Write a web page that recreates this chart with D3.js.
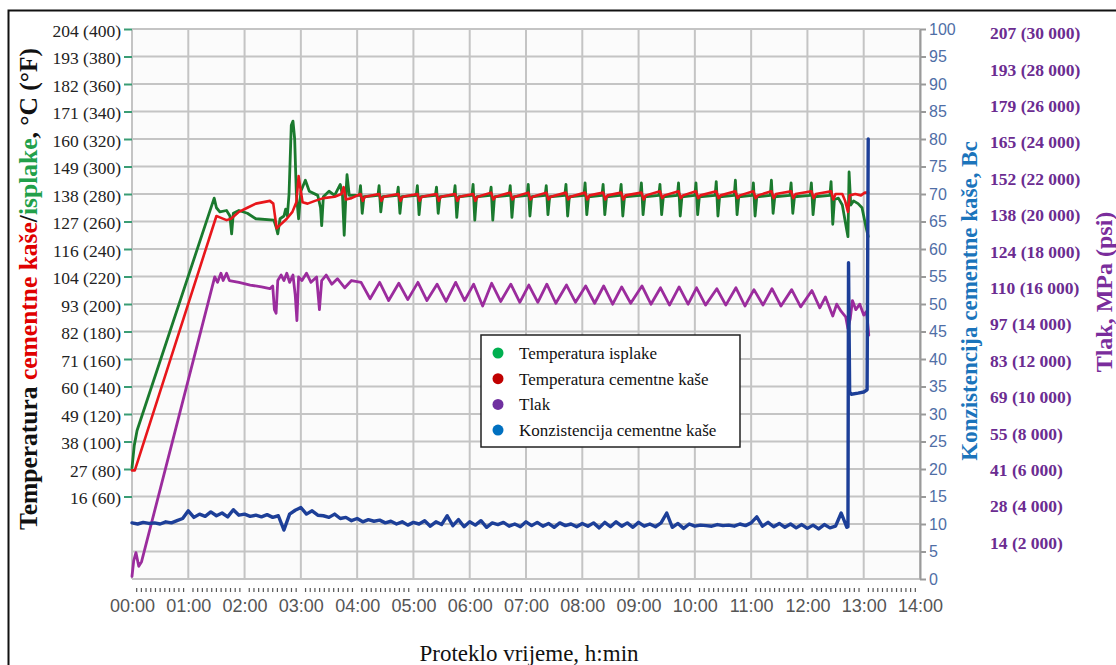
<!DOCTYPE html>
<meta charset="utf-8">
<style>
body { margin: 0; background: #fff; }
.grid line { stroke: #c4c4c4; stroke-width: 2px; }
.series { fill: none; stroke-linejoin: round; stroke-linecap: round; }
.tempAxis text { font: 17.5px "Liberation Serif", serif; fill: #222; }
.tempAxis line { stroke: #3a9c74; stroke-width: 2px; }
.bcAxis text { font: 16px "Liberation Sans", Arial, sans-serif; fill: #4f6ea6; }
.bcAxis line, .bcAxis path { stroke: #9a9a9a; stroke-width: 2px; }
.timeAxis text { font: 18px "Liberation Sans", Arial, sans-serif; fill: #555; }
.psiLabel { font: bold 17.5px "Liberation Serif", serif; fill: #6b2c91; }
.legend text { font: 17px "Liberation Serif", serif; fill: #111; }
</style>
<body>
<script src="https://d3js.org/d3.v7.min.js"></script>
<script>
// hours on x, temperature in degF, pressure in psi, consistency in Bc
var hourTicks = [0,1,2,3,4,5,6,7,8,9,10,11,12,13,14];
var hourLabels = ["00:00","01:00","02:00","03:00","04:00","05:00","06:00","07:00",
                  "08:00","09:00","10:00","11:00","12:00","13:00","14:00"];
var tempTicksF = [60,80,100,120,140,160,180,200,220,240,260,280,300,320,340,360,380,400];
var tempTicksC = [16,27,38,49,60,71,82,93,104,116,127,138,149,160,171,182,193,204];
var psiTicks = [2000,4000,6000,8000,10000,12000,14000,16000,18000,20000,22000,24000,26000,28000,30000];
var mpaTicks = [14,28,41,55,69,83,97,110,124,138,152,165,179,193,207];
var bcTicks = [0,5,10,15,20,25,30,35,40,45,50,55,60,65,70,75,80,85,90,95,100];

var legendNames = ["Temperatura isplake", "Temperatura cementne kaše", "Tlak", "Konzistencija  cementne kaše"];
var legendColors = ["#00b050", "#c00000", "#7030a0", "#0070c0"];

// temperatura isplake (degF)
var mudTemp = [
 [0,81],[0.04,97],[0.09,108],[1.46,277],[1.5,270],[1.56,267],[1.68,268],[1.74,264],[1.77,251],[1.8,266],
 [1.9,268],[2.05,266],[2.2,262],[2.52,261],[2.56,256],[2.59,251],[2.63,262],[2.7,264],[2.73,269],[2.76,264],
 [2.79,280],[2.83,330],[2.86,333],[2.89,320],[2.92,280],[2.96,262],[3.0,282],[3.08,290],[3.15,282],[3.3,279],
 [3.35,270],[3.37,257],[3.4,278],[3.5,282],[3.6,279],[3.7,287],[3.74,279],[3.77,250],[3.8,279],[3.82,294],[3.86,279],
 [4.04,279],[4.06,286],[4.09,266],[4.12,278],
 [4.37,279],[4.39,286],[4.42,267],[4.45,278],
 [4.71,279],[4.73,285],[4.76,266],[4.79,278],
 [5.05,279],[5.07,286],[5.10,265],[5.13,278],
 [5.39,279],[5.41,285],[5.44,266],[5.47,278],
 [5.72,279],[5.74,286],[5.77,263],[5.80,278],
 [6.04,279],[6.06,287],[6.09,261],[6.12,278],
 [6.36,279],[6.38,285],[6.41,261],[6.44,278],
 [6.70,279],[6.72,286],[6.75,263],[6.78,278],
 [7.02,279],[7.04,287],[7.07,264],[7.10,278],
 [7.34,279],[7.36,286],[7.39,265],[7.42,278],
 [7.69,279],[7.71,287],[7.74,264],[7.77,278],
 [8.03,279],[8.05,288],[8.08,265],[8.11,278],
 [8.35,279],[8.37,287],[8.40,265],[8.43,278],
 [8.67,279],[8.69,287],[8.72,264],[8.75,278],
 [9.03,279],[9.05,288],[9.08,265],[9.11,278],
 [9.36,279],[9.38,287],[9.41,265],[9.44,278],
 [9.69,279],[9.71,288],[9.74,264],[9.77,278],
 [10.00,279],[10.02,288],[10.05,265],[10.08,278],
 [10.36,279],[10.38,289],[10.41,264],[10.44,278],
 [10.70,279],[10.72,290],[10.75,265],[10.78,278],
 [11.02,279],[11.04,288],[11.07,264],[11.10,278],
 [11.34,279],[11.36,290],[11.39,266],[11.42,278],
 [11.69,279],[11.71,288],[11.74,266],[11.77,278],
 [12.05,279],[12.07,288],[12.10,265],[12.13,278],
 [12.40,279],[12.42,289],[12.45,258],[12.48,276],
 [12.55,277],[12.62,272],[12.68,258],[12.72,249],[12.74,296],[12.77,272],[12.82,275],[12.9,273],
 [12.97,270],[13.04,256],[13.08,249]
];

// temperatura cementne kase (degF)
var slurryTemp = [
 [0,79],[0.05,79],[1.5,264],[1.56,263],[1.68,261],[1.76,262],[1.9,267],[2.05,270],[2.2,273],[2.45,275],
 [2.51,273],[2.57,255],[2.62,257],[2.75,262],[2.85,267],[2.92,274],[2.96,293],[3.0,282],[3.03,274],[3.12,273],
 [3.25,275],[3.4,277],[3.6,278],[3.72,280],[3.76,285],[3.8,276],[3.9,277],
 [4.06,280],[4.10,275],[4.14,278],[4.39,280],[4.43,275],[4.47,278],[4.73,280],[4.77,275],[4.81,278],
 [5.07,280],[5.11,275],[5.15,278],[5.41,280],[5.45,275],[5.49,278],[5.74,280],[5.78,275],[5.82,278],
 [6.06,280],[6.10,275],[6.14,278],[6.38,281],[6.42,276],[6.46,278],[6.72,281],[6.76,276],[6.80,278],
 [7.04,281],[7.08,276],[7.12,278],[7.36,281],[7.40,276],[7.44,278],[7.71,281],[7.75,276],[7.79,278],
 [8.05,281],[8.09,276],[8.13,279],[8.37,281],[8.41,276],[8.45,279],[8.69,281],[8.73,276],[8.77,279],
 [9.05,281],[9.09,276],[9.13,279],[9.38,282],[9.42,277],[9.46,279],[9.71,282],[9.75,277],[9.79,279],
 [10.02,282],[10.06,277],[10.10,279],[10.38,282],[10.42,277],[10.46,279],[10.72,282],[10.76,277],[10.80,279],
 [11.04,282],[11.08,277],[11.12,279],[11.36,282],[11.40,277],[11.44,280],[11.71,282],[11.75,277],[11.79,280],
 [12.07,282],[12.11,277],[12.15,280],[12.42,282],[12.46,276],[12.50,280],
 [12.62,280],[12.67,275],[12.72,267],[12.75,279],[12.85,280],[12.95,279],[13.02,281],[13.08,281]
];

// tlak (psi)
var pressure = [
 [0,150],[0.03,1000],[0.07,1450],[0.12,700],[0.17,950],[1.47,16600],[1.52,16300],[1.58,16800],[1.62,16400],
 [1.68,16800],[1.73,16400],[1.9,16300],[2.1,16150],[2.3,16050],[2.45,15950],[2.5,16100],[2.53,14800],[2.56,14600],
 [2.59,16400],[2.65,16700],[2.7,16400],[2.75,16800],[2.8,16300],[2.86,16700],[2.9,15600],[2.93,14200],[2.96,16600],
 [3.02,16400],[3.1,16800],[3.18,16300],[3.28,16600],[3.33,14800],[3.37,16400],[3.45,16700],[3.55,16200],
 [3.65,16500],[3.78,16000],[3.9,16400],
 [4.07,16300],[4.23,15400],[4.40,16300],[4.56,15300],[4.74,16250],[4.90,15350],[5.08,16300],[5.24,15300],
 [5.42,16200],[5.58,15250],[5.75,16300],[5.91,15300],[6.07,16200],[6.23,15000],[6.39,16250],[6.55,15250],
 [6.73,16200],[6.89,15200],[7.05,16150],[7.21,15200],[7.37,16200],[7.53,15150],[7.72,16150],[7.88,15200],
 [8.06,16100],[8.22,15150],[8.38,16100],[8.54,15100],[8.70,16050],[8.86,15150],[9.06,16100],[9.22,15100],
 [9.39,16000],[9.55,15050],[9.72,16050],[9.88,15100],[10.03,16000],[10.19,15050],[10.39,15950],[10.55,15050],
 [10.73,16000],[10.89,15000],[11.05,15900],[11.21,15050],[11.37,15950],[11.53,15000],[11.72,15900],[11.88,14950],
 [12.08,15850],[12.22,14900],[12.32,15500],[12.45,14450],[12.52,15100],[12.6,14700],[12.68,14400],[12.72,13750],
 [12.76,14300],[12.8,15300],[12.86,14800],[12.93,15100],[13.0,14500],[13.05,14700],[13.09,13400]
];

// konzistencija (Bc), one reading every 0.1 h from 00:00
var bcStep = 0.1;
var consistency = [
 10.2,10.0,10.3,10.1,10.2,10.0,10.4,10.2,10.6,11.0,
 12.4,11.2,11.8,11.4,12.2,11.5,12.0,11.3,12.6,11.6,
 11.8,11.4,11.6,11.3,11.7,11.2,11.5,8.9,11.8,12.5,
 13.0,11.8,12.4,11.6,11.5,11.2,11.8,11.0,11.2,10.6,
 11.0,10.4,10.8,10.5,10.7,10.2,10.5,10.0,10.4,9.8,
 10.3,10.0,10.6,9.6,10.4,9.9,11.5,9.7,10.8,9.5,
 10.4,9.8,10.6,9.4,10.2,9.9,10.3,9.6,10.0,9.5,
 10.4,9.7,10.3,9.6,10.1,9.4,10.2,9.7,10.0,9.5,
 10.1,9.6,10.2,9.3,10.3,9.5,10.4,9.6,10.2,9.4,
 10.3,9.6,10.0,9.5,10.2,12.0,9.4,10.1,9.2,10.0,
 9.6,9.8,9.7,9.6,9.9,9.7,9.8,9.6,10.0,9.7,
 10.2,11.3,9.6,10.3,9.5,10.1,9.4,10.0,9.3,9.9,
 9.2,9.8,9.1,9.9,9.3,9.6,12.0,9.4
];
var consistencyEnd = [[12.72,9.5],[12.73,57.5],[12.75,34.0],[12.78,33.6],[12.9,33.8],[13.0,34.0],[13.06,34.4],[13.08,80]];

var svg = d3.select("body").append("svg")
    .attr("width", 1116)
    .attr("height", 665);

var x = d3.scaleLinear().domain([0, 14]).range([132, 920]);
var yF = d3.scaleLinear().domain([0, 400]).range([579, 29]);
var yBc = d3.scaleLinear().domain([0, 100]).range([579, 29]);
var yPsi = d3.scaleLinear().domain([0, 30000]).range([579, 33]);

// outer frame (right and bottom edges run off the picture)
svg.append("rect")
    .attr("x", 8.5).attr("y", 10.5)
    .attr("width", 1130).attr("height", 680)
    .attr("fill", "none").attr("stroke", "#111").attr("stroke-width", 2);

// plot background + grid
svg.append("rect")
    .attr("x", x(0)).attr("y", yBc(100))
    .attr("width", x(14) - x(0)).attr("height", yBc(0) - yBc(100))
    .attr("fill", "#fbfbfb");

var grid = svg.append("g").attr("class", "grid");
grid.selectAll(".h").data(bcTicks).enter().append("line")
    .attr("x1", x(0)).attr("x2", x(14))
    .attr("y1", function(d) { return yBc(d); })
    .attr("y2", function(d) { return yBc(d); });
grid.selectAll(".v").data(hourTicks).enter().append("line")
    .attr("y1", yBc(0)).attr("y2", yBc(100))
    .attr("x1", function(d) { return x(d); })
    .attr("x2", function(d) { return x(d); });

// left temperature axis
var tempAxis = svg.append("g")
    .attr("class", "tempAxis")
    .attr("transform", "translate(" + x(0) + ",0)")
    .call(d3.axisLeft(yF).tickValues(tempTicksF).tickSize(8).tickPadding(3)
        .tickFormat(function(d, i) { return tempTicksC[i] + " (" + d + ")"; }));
tempAxis.select(".domain").remove();
tempAxis.selectAll("text").attr("dy", "0.42em");

// right consistency axis
var bcAxis = svg.append("g")
    .attr("class", "bcAxis")
    .attr("transform", "translate(" + x(14) + ",0)")
    .call(d3.axisRight(yBc).tickValues(bcTicks).tickSize(6).tickSizeOuter(0).tickPadding(3));

// pressure labels (no ticks)
svg.append("g").selectAll("text")
    .data(psiTicks).enter().append("text")
    .attr("class", "psiLabel")
    .attr("x", 990)
    .attr("y", function(d) { return yPsi(d); })
    .attr("dy", "0.35em")
    .text(function(d, i) { return mpaTicks[i] + " (" + d3.format(",")(d).replace(",", " ") + ")"; });

// time axis
var timeAxis = svg.append("g")
    .attr("class", "timeAxis")
    .attr("transform", "translate(0," + yBc(0) + ")")
    .call(d3.axisBottom(x).tickValues(hourTicks).tickSize(0).tickPadding(20)
        .tickFormat(function(d, i) { return hourLabels[i]; }));
timeAxis.select(".domain").remove();

// 5-minute minor ticks
var minor = d3.range(0, 14 * 60, 5).filter(function(m) { return m % 60 !== 0; });
svg.append("g").selectAll("line")
    .data(minor).enter().append("line")
    .attr("x1", function(m) { return x(m / 60); })
    .attr("x2", function(m) { return x(m / 60); })
    .attr("y1", 588).attr("y2", 592)
    .attr("stroke", "#555").attr("stroke-width", 1.2);

// series
var lineF = d3.line().x(function(d) { return x(d[0]); }).y(function(d) { return yF(d[1]); });
var linePsi = d3.line().x(function(d) { return x(d[0]); }).y(function(d) { return yPsi(d[1]); });
var lineBc = d3.line().x(function(d) { return x(d[0]); }).y(function(d) { return yBc(d[1]); });

var bcData = consistency.map(function(v, i) { return [i * bcStep, v]; }).concat(consistencyEnd);

svg.append("path").datum(pressure).attr("class", "series")
    .attr("d", linePsi).attr("stroke", "#9b2c9d").attr("stroke-width", 2.8);
svg.append("path").datum(mudTemp).attr("class", "series")
    .attr("d", lineF).attr("stroke", "#1b7a2e").attr("stroke-width", 2.8);
svg.append("path").datum(slurryTemp).attr("class", "series")
    .attr("d", lineF).attr("stroke", "#e8161b").attr("stroke-width", 2.6);
svg.append("path").datum(bcData).attr("class", "series")
    .attr("d", lineBc).attr("stroke", "#1d3f98").attr("stroke-width", 3.4);

// legend
var legend = svg.append("g").attr("class", "legend");
legend.append("rect")
    .attr("x", 481).attr("y", 335).attr("width", 259).attr("height", 112)
    .attr("fill", "#fff").attr("stroke", "#222").attr("stroke-width", 1.5);
var item = legend.selectAll(".item").data(legendNames).enter().append("g")
    .attr("transform", function(d, i) { return "translate(498," + (353 + i * 25.7) + ")"; });
item.append("circle").attr("r", 5.5).attr("fill", function(d, i) { return legendColors[i]; });
item.append("text").attr("x", 21).attr("dy", "0.35em").text(function(d) { return d; });

// axis titles
var leftTitle = svg.append("text")
    .attr("transform", "translate(37,289) rotate(-90)")
    .attr("text-anchor", "middle")
    .style("font", "bold 25.5px 'Liberation Serif', serif");
leftTitle.append("tspan").attr("fill", "#111").text("Temperatura ");
leftTitle.append("tspan").attr("fill", "#e00000").text("cementne kaše");
leftTitle.append("tspan").attr("fill", "#111").text("/");
leftTitle.append("tspan").attr("fill", "#22a04a").text("isplake");
leftTitle.append("tspan").attr("fill", "#111").text(", °C (°F)");

svg.append("text")
    .attr("transform", "translate(977,301) rotate(-90)")
    .attr("text-anchor", "middle")
    .attr("fill", "#1b74bb")
    .style("font", "bold 23px 'Liberation Serif', serif")
    .text("Konzistencija cementne kaše, Bc");

svg.append("text")
    .attr("transform", "translate(1112,292) rotate(-90)")
    .attr("text-anchor", "middle")
    .attr("fill", "#7a2d9c")
    .style("font", "bold 24px 'Liberation Serif', serif")
    .text("Tlak, MPa (psi)");

svg.append("text")
    .attr("x", 529).attr("y", 661)
    .attr("text-anchor", "middle")
    .attr("fill", "#111")
    .style("font", "23px 'Liberation Serif', serif")
    .text("Proteklo vrijeme, h:min");
</script>
</body>
